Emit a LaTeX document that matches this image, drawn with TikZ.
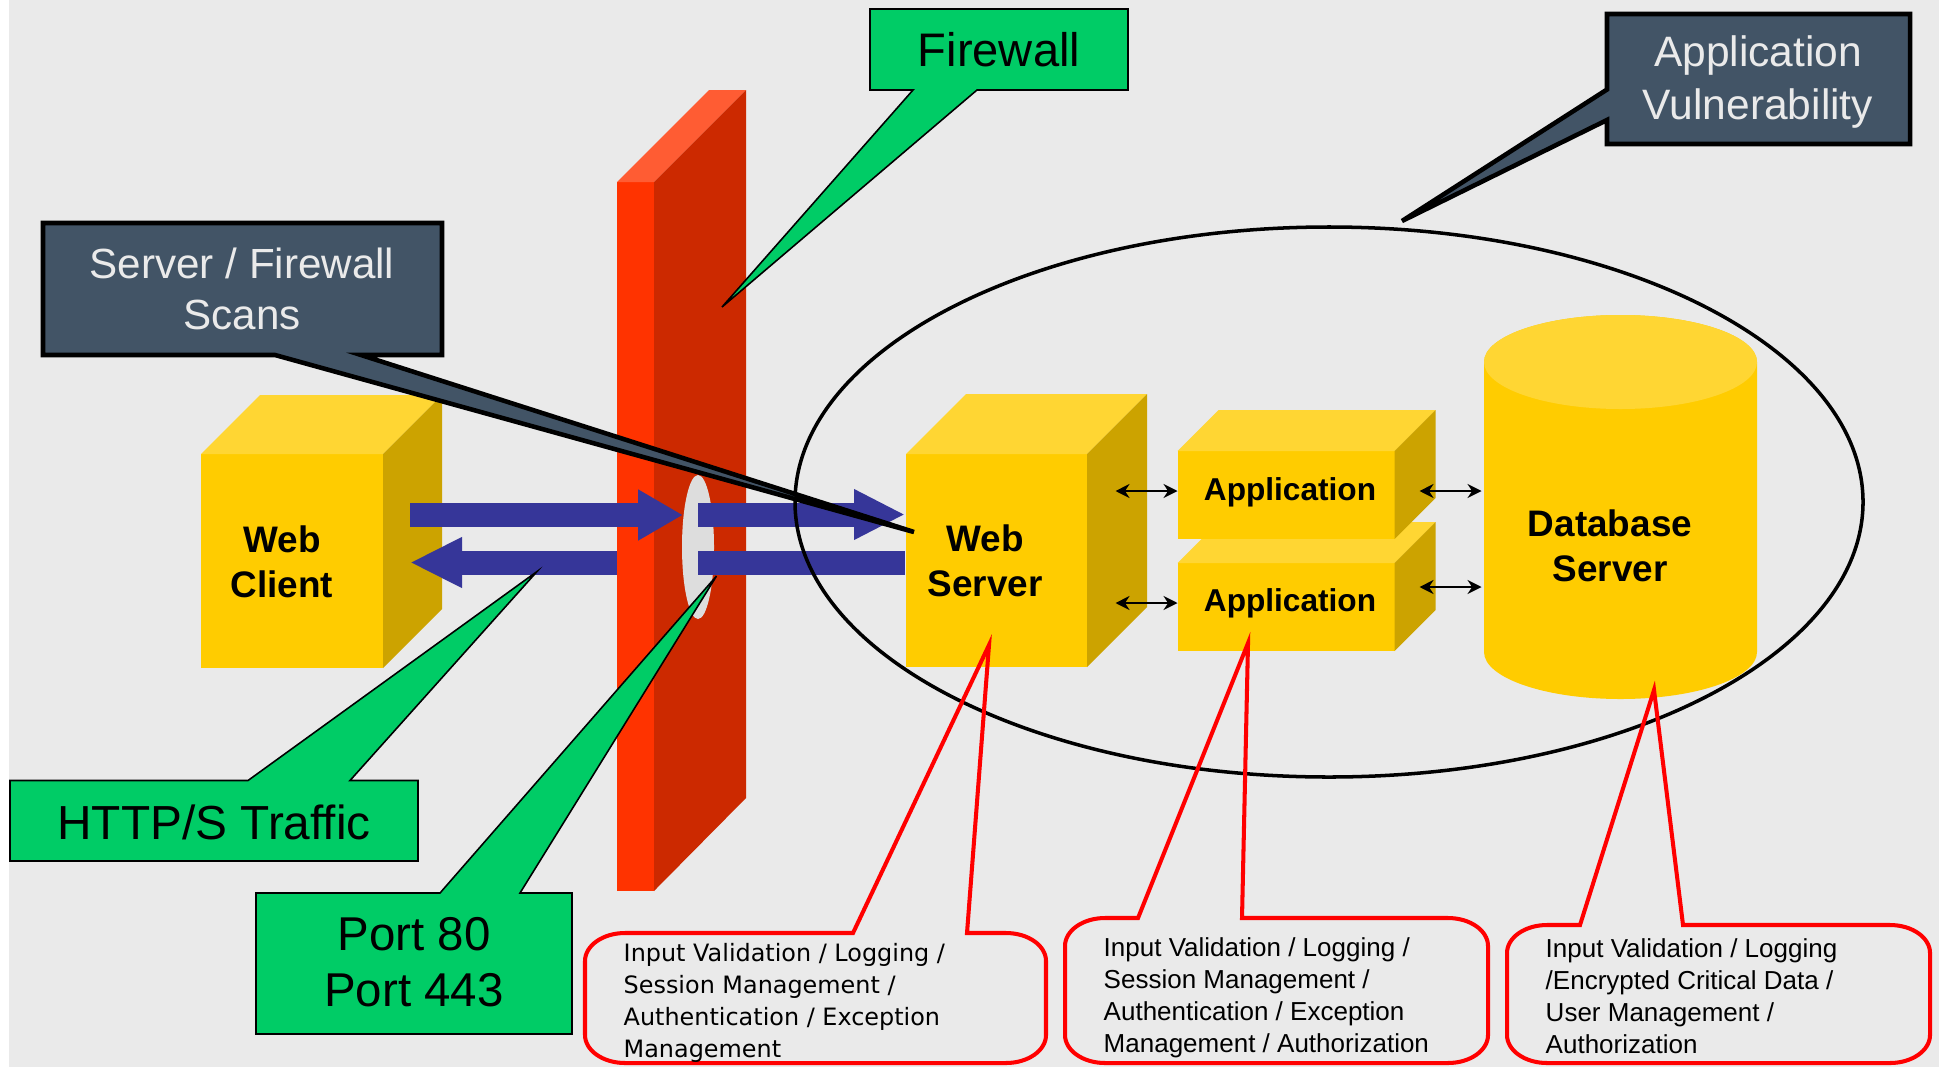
\documentclass[tikz,border=0pt]{standalone}
\usepackage{fontspec}
\setmainfont{Liberation Sans}
\newfontfamily\notefont{DejaVu Sans}
\usetikzlibrary{arrows.meta,calc}
\definecolor{bggrey}{HTML}{EAEAEA}
\definecolor{wallfront}{HTML}{FF3300}
\definecolor{wallside}{HTML}{CC2900}
\definecolor{walltop}{HTML}{FF5C33}
\definecolor{boxfront}{HTML}{FFCC00}
\definecolor{boxtop}{HTML}{FFD633}
\definecolor{boxside}{HTML}{CCA300}
\definecolor{callgreen}{HTML}{00CC66}
\definecolor{slate}{HTML}{425466}
\definecolor{flowblue}{HTML}{363699}
\definecolor{gapgrey}{HTML}{DDDDDD}

\begin{document}
\begin{tikzpicture}[x=0.1mm, y=-0.1mm,
	face/.style={fill=boxfront, inner sep=0pt, outer sep=0pt},
	lbl/.style={align=center, inner sep=0pt, font=\bfseries\fontsize{10.5}{12.7}\selectfont},
	flow/.style={flowblue, line width=2.4mm},
	dbl/.style={line width=0.6pt, {Stealth[length=1.4mm,width=1.4mm]}-{Stealth[length=1.4mm,width=1.4mm]}},
	greencall/.style={fill=callgreen, draw=black, line width=0.45pt},
	slatecall/.style={fill=slate, draw=black, line width=1.3pt},
	redcall/.style={draw=red, line width=1.15pt},
	big/.style={inner sep=0pt, align=center, font=\fontsize{13.4}{16.1}\selectfont},
	note/.style={inner sep=0pt, align=left, anchor=base west, font=\fontsize{7.4}{9.02}\selectfont}]
	\useasboundingbox (0,0) rectangle (1939,1067);
	\fill[white] (0,0) rectangle (1939,1067);
	\fill[bggrey] (9,0) rectangle (1939,1067);
	% firewall wall
	\fill[wallfront] (617,182) rectangle (654,891);
	\fill[walltop] (617,182) -- (709,90) -- (746,90) -- (654,182) -- cycle;
	\fill[wallside] (654,182) -- (746,90) -- (746,798) -- (654,891) -- cycle;
	% boxes
	\foreach \n/\cx/\cy/\w/\h/\d in {wc/292/561/182/214/59, ws/996.5/560.5/181/213/60, app2/1286/607/217/88/41, app1/1286/495/217/88/41}{
		\node[face, minimum width=\w*0.1mm, minimum height=\h*0.1mm] (\n) at (\cx,\cy) {};
		\fill[boxtop] (\n.north west) -- ++(\d,-\d) -- ++(\w,0) -- (\n.north east) -- cycle;
		\fill[boxside] (\n.north east) -- ++(\d,-\d) -- ++(0,\h) -- (\n.south east) -- cycle;
	}
	% database
	\fill[boxfront] (1484,362) -- (1484,652) arc[start angle=180, end angle=0, x radius=136.5, y radius=47] -- (1757,362) arc[start angle=0, end angle=-180, x radius=136.5, y radius=47] -- cycle;
	\fill[boxtop] (1620.5,362) ellipse [x radius=136.5, y radius=47];
	% traffic
	\fill[gapgrey] (698,547) ellipse [x radius=16, y radius=72];
	\draw[flow, -{Triangle[length=4.5mm, width=4.8mm]}] (410,515) -- (683,515);
	\draw[flow, -{Triangle[length=5.1mm, width=4.7mm]}] (698,514.5) -- (905,514.5);
	\draw[flow, -{Triangle[length=5.2mm, width=4.7mm]}] (617,562.5) -- (410,562.5);
	\draw[flow] (698,562.5) -- (905,562.5);
	\draw[line width=1pt] (1329,502) ellipse [x radius=534, y radius=275];
	\draw[dbl] ($(app1.west)+(-62,-4)$) -- ($(app1.west)+(0,-4)$);
	\draw[dbl] ($(app2.west)+(-62,-4)$) -- ($(app2.west)+(0,-4)$);
	\draw[dbl] ($(app1.east)+(25,-4)$) -- ($(app1.east)+(87,-4)$);
	\draw[dbl] ($(app2.east)+(25,-20)$) -- ($(app2.east)+(87,-20)$);
	\node[lbl] (wclbl) at (282,561.5) {Web\\Client};
	\node[lbl] (wslbl) at (985,561) {Web\\Server};
	\node[lbl, anchor=base, font=\bfseries\fontsize{9}{11}\selectfont] (app1lbl) at (1290,500) {Application};
	\node[lbl, anchor=base, font=\bfseries\fontsize{9}{11}\selectfont] (app2lbl) at (1290,611.7) {Application};
	\node[lbl] (dblbl) at (1610,545.7) {Database\\Server};
	% callouts
	\filldraw[greencall] (870,9) -- (1128,9) -- (1128,90) -- (977,90) -- (722,307) -- (913,90) -- (870,90) -- cycle;
	\node[big, anchor=base] (fw) at (999,66.5) {Firewall};
	\filldraw[slatecall] (1607,14) -- (1910,14) -- (1910,144) -- (1607,144) -- (1607,120) -- (1402,221) -- (1607,89.5) -- cycle;
	\node[big, text=bggrey, font=\fontsize{12.1}{14.8}\selectfont] (vuln) at (1758,82) {Application\\Vulnerability};
	\filldraw[slatecall] (43,223) -- (442,223) -- (442,355) -- (361,355) -- (914,532) -- (275,355) -- (43,355) -- cycle;
	\node[big, text=bggrey, font=\fontsize{12}{14.4}\selectfont] (scans) at (242,289) {Server / Firewall\\Scans};
	\filldraw[greencall] (10,780.5) -- (248,780.5) -- (537,571.5) -- (350,780.5) -- (418,780.5) -- (418,861) -- (10,861) -- cycle;
	\node[big, anchor=base, font=\fontsize{13.6}{16}\selectfont] (http) at (214,839) {HTTP/S Traffic};
	\filldraw[greencall] (256,893) -- (440,893) -- (716.5,576) -- (520,893) -- (572,893) -- (572,1034) -- (256,1034) -- cycle;
	\node[big, font=\fontsize{13.5}{16.1}\selectfont] (port) at (414,962) {Port 80\\Port 443};
	% red notes
	\draw[redcall] (585,961) arc[start angle=180, end angle=270, x radius=40, y radius=28] -- (853,933) -- (989,645) -- (967,933) -- (1006,933) arc[start angle=270, end angle=360, x radius=40, y radius=28] -- (1046,1035) arc[start angle=0, end angle=90, x radius=40, y radius=28] -- (625,1063) arc[start angle=90, end angle=180, x radius=40, y radius=28] -- cycle;
	\node[note, font=\notefont\fontsize{6.8}{9.02}\selectfont] (wsnote) at (623,1057) {Input Validation / Logging /\\Session Management /\\Authentication / Exception\\Management};
	\draw[redcall] (1065,946) arc[start angle=180, end angle=270, x radius=40, y radius=28] -- (1138,918) -- (1248,643) -- (1242,918) -- (1448,918) arc[start angle=270, end angle=360, x radius=40, y radius=28] -- (1488,1035) arc[start angle=0, end angle=90, x radius=40, y radius=28] -- (1105,1063) arc[start angle=90, end angle=180, x radius=40, y radius=28] -- cycle;
	\node[note] (appnote) at (1103,1052) {Input Validation / Logging /\\Session Management /\\Authentication / Exception\\Management / Authorization};
	\draw[redcall] (1507,953) arc[start angle=180, end angle=270, x radius=40, y radius=28] -- (1580,925) -- (1654,690) -- (1683,925) -- (1890,925) arc[start angle=270, end angle=360, x radius=40, y radius=28] -- (1930,1035) arc[start angle=0, end angle=90, x radius=40, y radius=28] -- (1547,1063) arc[start angle=90, end angle=180, x radius=40, y radius=28] -- cycle;
	\node[note] (dbnote) at (1545,1053) {Input Validation / Logging\\/Encrypted Critical Data /\\User Management /\\Authorization};
\end{tikzpicture}
\end{document}
